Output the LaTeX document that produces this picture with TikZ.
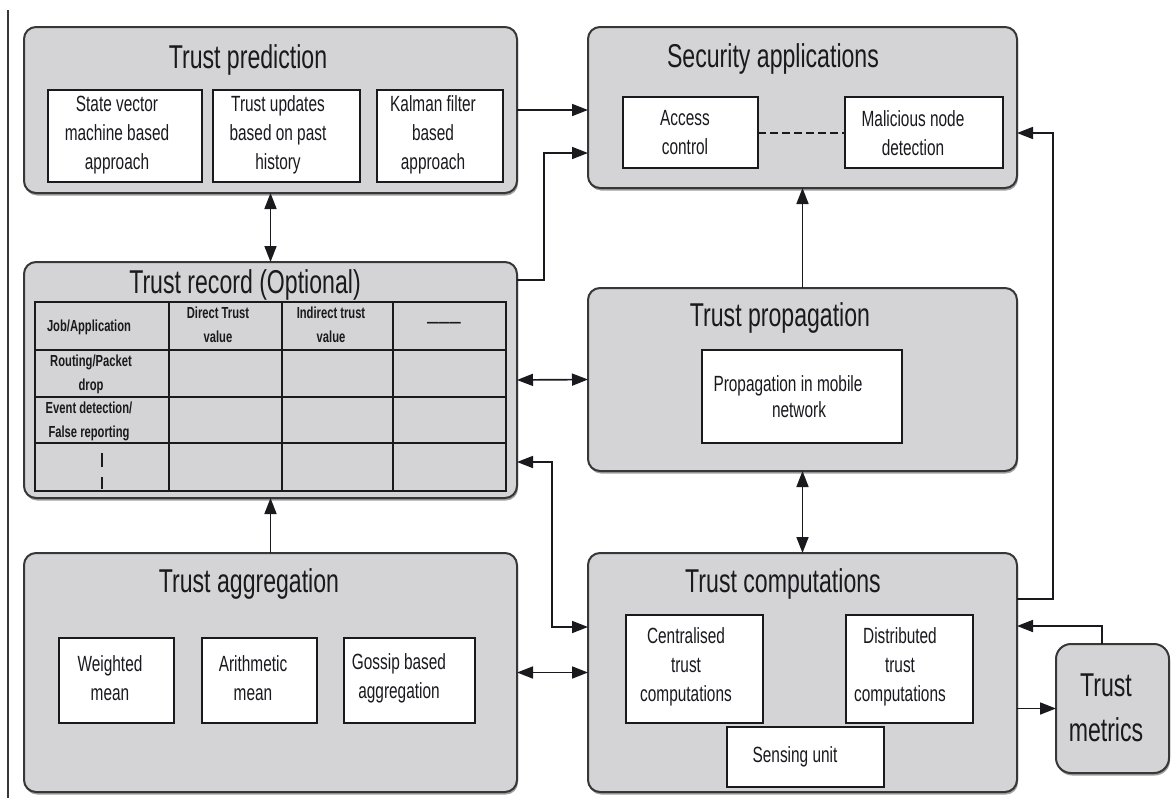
\documentclass[tikz,border=0pt]{standalone}
\usepackage{fontspec}
\setmainfont{Liberation Sans}[FakeStretch=0.7]
\usetikzlibrary{arrows.meta,fit,shadows}
\definecolor{panelgray}{RGB}{212,212,214}
\definecolor{edgegray}{RGB}{55,55,55}
\definecolor{shadegray}{RGB}{160,160,162}
\definecolor{ink}{RGB}{25,25,30}
\begin{document}
\begin{tikzpicture}[x=1pt,y=-1pt,
  panel/.style={draw=edgegray, fill=panelgray, line width=2pt, rounded corners=12pt, inner sep=0pt, outer sep=0pt,
    drop shadow={shadow xshift=1pt, shadow yshift=-2.5pt, fill=shadegray, opacity=1}},
  cellbox/.style={draw=ink, fill=white, line width=2pt, inner sep=0pt, outer sep=0pt},
  titletext/.style={font=\fontsize{33}{45}\selectfont, text=ink, inner sep=0pt, anchor=base},
  boxtext/.style={font=\fontsize{22}{29}\selectfont, text=ink, align=center, inner sep=0pt},
  tabtext/.style={font=\bfseries\fontsize{16}{24}\selectfont, text=ink, align=center, inner sep=0pt},
  conn/.style={draw=ink, line width=1.7pt},
  onetip/.style={conn, -{Triangle[length=16pt,width=12pt]}},
  twotips/.style={conn, {Triangle[length=16pt,width=12pt]}-{Triangle[length=16pt,width=12pt]}},
  gridline/.style={draw=ink, line width=2pt}
]
\useasboundingbox (0,0) rectangle (1171,798);

% left margin rule
\draw[edgegray, line width=1.5pt] (8,10) -- (8,798);

% main panels
\node[panel, fit={(24,27) (517,193)}] (tp) {};
\node[panel, fit={(588,27) (1017,188)}] (sa) {};
\node[panel, fit={(24,262) (517,498)}] (tr) {};
\node[panel, fit={(588,288) (1017,471)}] (tpg) {};
\node[panel, fit={(24,553) (517,792)}] (ta) {};
\node[panel, fit={(588,553) (1017,792)}] (tc) {};
\node[panel, rounded corners=15pt, fit={(1056,644) (1169,773)}] (tm) {};

% panel titles
\node[titletext] (tp-title) at (248,68) {Trust prediction};
\node[titletext] (sa-title) at (773,67) {Security applications};
\node[titletext] (tr-title) at (245,293) {Trust record (Optional)};
\node[titletext] (tpg-title) at (780,326) {Trust propagation};
\node[titletext] (ta-title) at (249,592) {Trust aggregation};
\node[titletext] (tc-title) at (783,592) {Trust computations};
\node[titletext, anchor=center, align=center] (tm-title) at (1106,708) {Trust\\metrics};

% trust prediction contents
\node[cellbox, fit={(48,90) (202,182)}] (tp1) {};
\node[cellbox, fit={(213,90) (360,182)}] (tp2) {};
\node[cellbox, fit={(377,90) (503,182)}] (tp3) {};
\node[boxtext] (tp1-text) at (117,135) {State vector\\machine based\\approach};
\node[boxtext] (tp2-text) at (278,135) {Trust updates\\based on past\\history};
\node[boxtext] (tp3-text) at (433,135) {Kalman filter\\based\\approach};

% security applications contents
\node[cellbox, fit={(623,97) (758,168)}] (sa1) {};
\node[cellbox, fit={(845,97) (1003,168)}] (sa2) {};
\node[boxtext] (sa1-text) at (685,133) {Access\\control};
\node[boxtext] (sa2-text) at (913,133) {Malicious node\\detection};
\draw[conn, line width=2pt, dash pattern=on 8pt off 4pt] (sa1.east) -- (sa2.west);

% trust propagation contents
\node[cellbox, fit={(702,350) (902,443)}] (pg1) {};
\node[boxtext, font=\fontsize{22}{26}\selectfont] (pg1-text) at (788,397) {Propagation in mobile\\\hspace*{22pt}network};

% trust aggregation contents
\node[cellbox, fit={(59,638) (174,723)}] (ta1) {};
\node[cellbox, fit={(202,638) (317,723)}] (ta2) {};
\node[cellbox, fit={(344,638) (475,723)}] (ta3) {};
\node[boxtext] (ta1-text) at (110,678) {Weighted\\mean};
\node[boxtext] (ta2-text) at (253,678) {Arithmetic\\mean};
\node[boxtext] (ta3-text) at (399,678) {Gossip based\\aggregation};

% trust computations contents
\node[cellbox, fit={(626,615) (763,723)}] (tc1) {};
\node[cellbox, fit={(846,615) (973,723)}] (tc2) {};
\node[cellbox, fit={(727,727) (884,787)}] (tc3) {};
\node[boxtext] (tc1-text) at (686,667) {Centralised\\trust\\computations};
\node[boxtext] (tc2-text) at (900,667) {Distributed\\trust\\computations};
\node[boxtext] (tc3-text) at (795,757) {Sensing unit};

% trust record table
\node[gridline, inner sep=0pt, fit={(35,302) (506,491)}] (tbl) {};
\foreach \x in {169,282,393} \draw[gridline] (\x,302) -- (\x,491);
\foreach \y in {350,397,443} \draw[gridline] (35,\y) -- (506,\y);
\node[tabtext] (c11) at (89,327) {Job/Application};
\node[tabtext] (c12) at (218,325) {Direct Trust\\value};
\node[tabtext] (c13) at (331,325) {Indirect trust\\value};
\node[tabtext] (c14) at (444,325) {———};
\node[tabtext] (c21) at (91,374) {Routing/Packet\\drop};
\node[tabtext] (c31) at (89,421) {Event detection/\\False reporting};
\draw[conn] (102,453) -- (102,467) (102,477) -- (102,489);

% connectors
\draw[onetip] (tp.east) -- (tp.east -| sa.west);
\draw[onetip] (tr.east |- 0,280) -- (544,280) |- (sa.west |- 0,153);
\draw[onetip] (tpg.north) -- (sa.south);
\draw[onetip] (tc.east |- 0,599) -- (1053,599) |- (sa.east |- 0,133);
\draw[twotips] (tp.south) -- (tr.north);
\draw[twotips] (tr.east) -- (tpg.west);
\draw[onetip] (ta.north) -- (tr.south);
\draw[twotips] (tr.east |- 0,462) -- (552,462) |- (tc.west |- 0,627);
\draw[twotips] (ta.east) -- (tc.west);
\draw[twotips] (tpg.south) -- (tc.north);
\draw[onetip] (tm.north -| 1102,0) |- (tc.east |- 0,626);
\draw[onetip] (tc.east |- tm.west) -- (tm.west);
\end{tikzpicture}
\end{document}
